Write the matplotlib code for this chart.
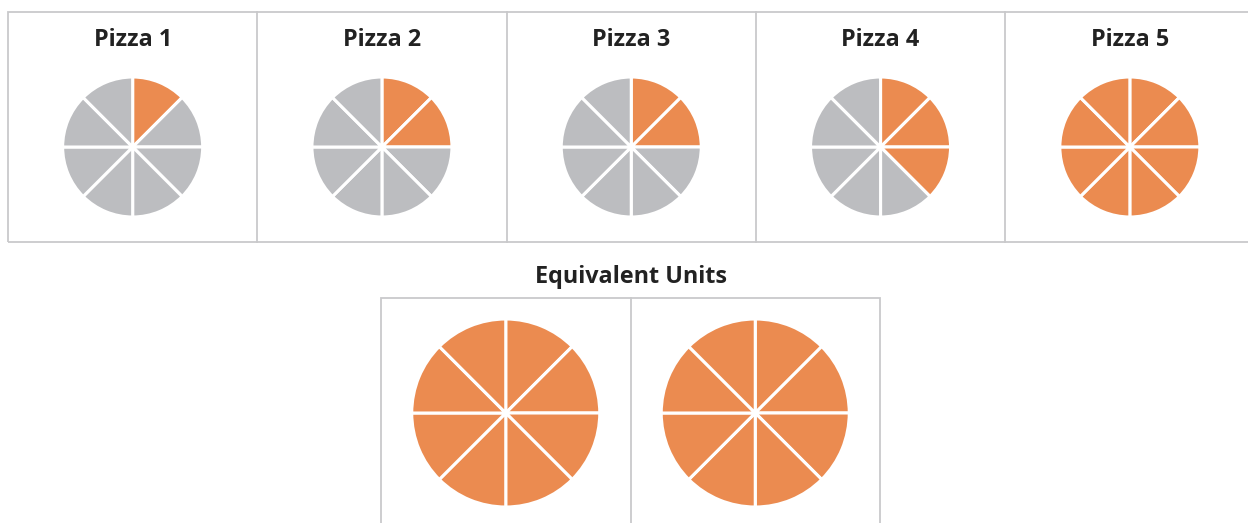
import matplotlib.pyplot as plt
from matplotlib.patches import Rectangle

# data
pizza_names = ['Pizza 1', 'Pizza 2', 'Pizza 3', 'Pizza 4', 'Pizza 5']
eaten_slices = [1, 2, 2, 3, 8]
slices_per_pizza = 8
equiv_title = 'Equivalent Units'
equiv_units = [8, 8]   # two whole pizzas

orange = '#EB8B50'
gray = '#BCBDC0'
border = '#C9C9CB'

W, H = 1248, 523
fig = plt.figure(figsize=(W / 100, H / 100), dpi=100)
ax = fig.add_axes([0, 0, 1, 1])
ax.set_xlim(0, W)
ax.set_ylim(0, H)
ax.set_aspect('equal')
ax.axis('off')

plt.rcParams['font.family'] = ['Open Sans', 'DejaVu Sans']


def Y(y):
    # pixel row from top -> axis y
    return H - y


def draw_pizza(cx, cy, r, n_orange):
    colors = [orange if i < n_orange else gray for i in range(slices_per_pizza)]
    ax.pie([1] * slices_per_pizza, colors=colors, startangle=90, counterclock=False,
           center=(cx, Y(cy)), radius=r, frame=True,
           wedgeprops=dict(edgecolor='white', linewidth=2.2))


# top row boxes
box_w = 249.3
x0 = 8
ax.add_patch(Rectangle((x0, Y(242)), W, 230, fill=False, edgecolor=border, lw=1.3))
for i, (name, n) in enumerate(zip(pizza_names, eaten_slices)):
    left = x0 + i * box_w
    if i > 0:
        ax.plot([left, left], [Y(12), Y(242)], color=border, lw=1.3)
    cx = left + box_w / 2
    ax.text(cx, Y(40), name, ha='center', va='center', fontsize=16.8,
            fontweight='bold', color='#222222')
    draw_pizza(cx, 147, 70, n)

# equivalent units
ax.text(631, Y(277), equiv_title, ha='center', va='center', fontsize=16.8,
        fontweight='bold', color='#222222')
bx0 = 381
bw = 249.5
ax.add_patch(Rectangle((bx0, Y(540)), 2 * bw, 242, fill=False, edgecolor=border, lw=1.3))
ax.plot([bx0 + bw, bx0 + bw], [Y(298), 0], color=border, lw=1.3)
for j, n in enumerate(equiv_units):
    cx = bx0 + j * bw + bw / 2
    draw_pizza(cx, 413, 94, n)

ax.set_xlim(0, W)
ax.set_ylim(0, H)
ax.axis('off')
fig.savefig('out.png', dpi=100)
